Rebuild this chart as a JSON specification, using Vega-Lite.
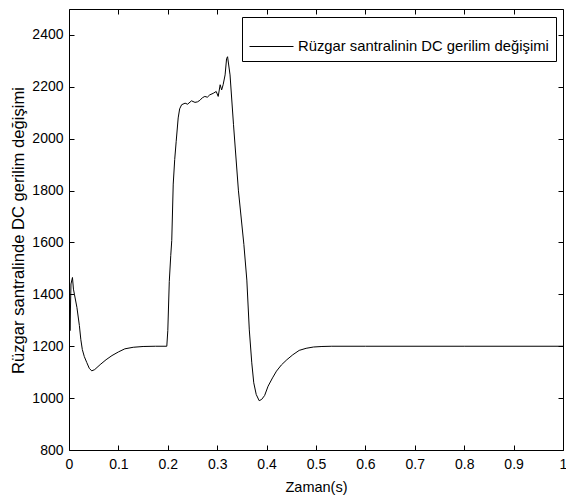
{
  "$schema": "https://vega.github.io/schema/vega-lite/v6.json",
  "width": 494,
  "height": 441,
  "autosize": {"type": "none"},
  "padding": {"left": 69, "top": 9, "right": 3, "bottom": 49},
  "background": "white",
  "config": {
    "view": {"stroke": "black", "strokeWidth": 1},
    "font": "Liberation Sans",
    "axis": {"grid": false, "domain": false, "tickColor": "black", "labelColor": "black", "titleColor": "black", "titleFontWeight": "normal", "labelFont": "Liberation Sans", "titleFont": "Liberation Sans"}
  },
  "data": {
    "values": [
      {"t": 0.0, "v": 1250},
      {"t": 0.001, "v": 1420},
      {"t": 0.002, "v": 1260},
      {"t": 0.004, "v": 1440},
      {"t": 0.007, "v": 1465},
      {"t": 0.009, "v": 1420},
      {"t": 0.011, "v": 1400},
      {"t": 0.016, "v": 1350},
      {"t": 0.021, "v": 1280},
      {"t": 0.024, "v": 1225},
      {"t": 0.027, "v": 1187},
      {"t": 0.031, "v": 1160},
      {"t": 0.036, "v": 1137},
      {"t": 0.041, "v": 1115},
      {"t": 0.046, "v": 1105},
      {"t": 0.052, "v": 1110},
      {"t": 0.063, "v": 1129},
      {"t": 0.075, "v": 1148},
      {"t": 0.087, "v": 1164},
      {"t": 0.1, "v": 1178},
      {"t": 0.113, "v": 1190},
      {"t": 0.13, "v": 1196},
      {"t": 0.15, "v": 1199},
      {"t": 0.175, "v": 1200},
      {"t": 0.198, "v": 1200},
      {"t": 0.2, "v": 1260},
      {"t": 0.203, "v": 1450},
      {"t": 0.206, "v": 1550},
      {"t": 0.208, "v": 1608},
      {"t": 0.211, "v": 1825},
      {"t": 0.214, "v": 1920},
      {"t": 0.217, "v": 1990},
      {"t": 0.221, "v": 2080},
      {"t": 0.224, "v": 2115},
      {"t": 0.228, "v": 2131},
      {"t": 0.235, "v": 2137},
      {"t": 0.24, "v": 2133},
      {"t": 0.248, "v": 2146},
      {"t": 0.255, "v": 2140},
      {"t": 0.26, "v": 2142},
      {"t": 0.265, "v": 2148},
      {"t": 0.27, "v": 2158},
      {"t": 0.275, "v": 2163},
      {"t": 0.28, "v": 2160},
      {"t": 0.285, "v": 2169},
      {"t": 0.292, "v": 2175},
      {"t": 0.298, "v": 2182},
      {"t": 0.302, "v": 2163},
      {"t": 0.306, "v": 2208},
      {"t": 0.309, "v": 2188},
      {"t": 0.312, "v": 2208},
      {"t": 0.316, "v": 2246},
      {"t": 0.319, "v": 2309},
      {"t": 0.321, "v": 2316},
      {"t": 0.326, "v": 2246},
      {"t": 0.333, "v": 2054},
      {"t": 0.343, "v": 1799},
      {"t": 0.354, "v": 1592},
      {"t": 0.36, "v": 1455},
      {"t": 0.365, "v": 1263},
      {"t": 0.37, "v": 1136},
      {"t": 0.374, "v": 1059},
      {"t": 0.379, "v": 1014},
      {"t": 0.385, "v": 990},
      {"t": 0.39, "v": 995},
      {"t": 0.396, "v": 1010},
      {"t": 0.403, "v": 1046},
      {"t": 0.412, "v": 1078},
      {"t": 0.42, "v": 1104},
      {"t": 0.43, "v": 1128},
      {"t": 0.441, "v": 1148},
      {"t": 0.453, "v": 1167},
      {"t": 0.466, "v": 1184},
      {"t": 0.48, "v": 1192},
      {"t": 0.495, "v": 1197},
      {"t": 0.512, "v": 1199},
      {"t": 0.532, "v": 1200},
      {"t": 0.6, "v": 1200},
      {"t": 0.8, "v": 1200},
      {"t": 1.0, "v": 1200}
    ]
  },
  "layer": [
    {
      "mark": {"type": "line", "color": "black", "strokeWidth": 1, "clip": true},
      "encoding": {
        "x": {
          "field": "t", "type": "quantitative",
          "scale": {"domain": [0, 1], "nice": false, "zero": false},
          "axis": {"orient": "bottom", "values": [0, 0.1, 0.2, 0.3, 0.4, 0.5, 0.6, 0.7, 0.8, 0.9, 1], "labelExpr": "'' + datum.value", "tickSize": -5, "labelPadding": 12, "labelFontSize": 14, "labelOverlap": false, "labelBound": false, "labelFlush": false, "title": "Zaman(s)", "titleFontSize": 14.5, "titlePadding": 9}
        },
        "y": {
          "field": "v", "type": "quantitative",
          "scale": {"domain": [800, 2500], "nice": false, "zero": false},
          "axis": {"orient": "left", "values": [800, 1000, 1200, 1400, 1600, 1800, 2000, 2200, 2400], "tickSize": -5, "labelPadding": 11, "labelFontSize": 14, "labelOverlap": false, "labelBound": false, "labelFlush": false, "format": "d", "title": "Rüzgar santralinde DC gerilim değişimi", "titleFontSize": 16.6, "titleLimit": 1000, "titleX": -51, "titleY": 221, "titleAngle": 270, "titleAlign": "center", "titleBaseline": "middle"}
        },
        "color": {
          "datum": "Rüzgar santralinin DC gerilim değişimi", "type": "nominal",
          "scale": {"range": ["black"]},
          "legend": {"orient": "none", "legendX": 173, "legendY": 8, "title": null, "symbolType": "stroke", "symbolSize": 1936, "symbolStrokeWidth": 1, "symbolStrokeColor": "black", "labelFontSize": 14.8, "labelFont": "Liberation Sans", "labelColor": "black", "labelOffset": 4, "strokeColor": "black", "fillColor": "white", "padding": 7, "labelLimit": 400}
        }
      }
    },
    {
      "mark": {"type": "line", "opacity": 0},
      "encoding": {
        "x": {
          "field": "t", "type": "quantitative",
          "axis": {"orient": "top", "values": [0, 0.1, 0.2, 0.3, 0.4, 0.5, 0.6, 0.7, 0.8, 0.9, 1], "tickSize": -5, "labels": false, "title": null}
        },
        "y": {
          "field": "v", "type": "quantitative",
          "axis": {"orient": "right", "values": [800, 1000, 1200, 1400, 1600, 1800, 2000, 2200, 2400], "tickSize": -5, "labels": false, "title": null}
        }
      }
    }
  ],
  "resolve": {"axis": {"x": "independent", "y": "independent"}}
}
